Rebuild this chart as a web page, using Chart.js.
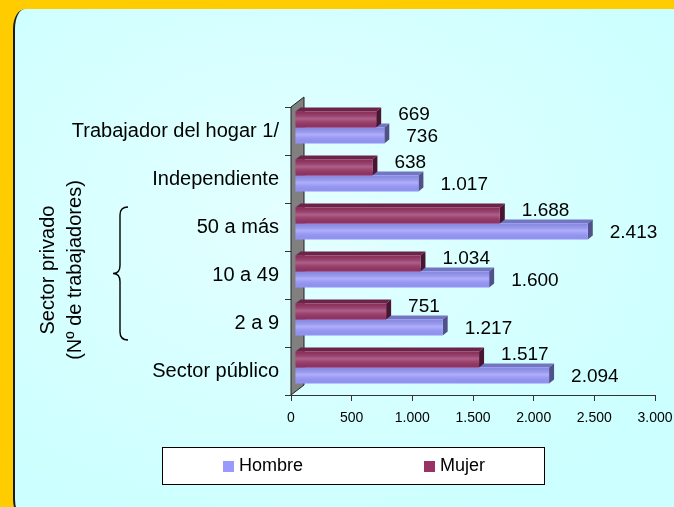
<!DOCTYPE html>
<html><head><meta charset="utf-8">
<script src="https://cdn.jsdelivr.net/npm/chart.js@4.4.0/dist/chart.umd.min.js"></script>
<style>
html,body{margin:0;padding:0;background:#FFCC00;width:674px;height:507px;overflow:hidden}
#panel{position:absolute;left:13px;top:9px;width:700px;height:510px;background:radial-gradient(ellipse at 40% 40%, #E4FFFF 0%, #CCFFFF 75%);border-left:2px solid #1a1a1a;border-radius:12px/20px;box-sizing:border-box}
#c{position:absolute;left:0;top:0}
</style></head><body>
<div id="panel"></div>
<canvas id="c" width="674" height="507"></canvas>
<script>
const categories = ['Trabajador del hogar 1/', 'Independiente', '50 a más', '10 a 49', '2 a 9', 'Sector público'];
const hombre = [736, 1017, 2413, 1600, 1217, 2094];
const mujer = [669, 638, 1688, 1034, 751, 1517];
const xTicks = [0, 500, 1000, 1500, 2000, 2500, 3000];
const seriesNames = ['Hombre', 'Mujer'];
const axisTitle = ['Sector privado', '(Nº de trabajadores)'];

const FONT = 'Liberation Sans, Arial, sans-serif';
Chart.defaults.font.family = FONT;
const fmt = v => String(Math.round(v)).replace(/\B(?=(\d{3})+(?!\d))/g, '.');

const COLORS = {
  Mujer: {front: '#993366', top: '#6E2248', side: '#4A1530'},
  Hombre: {front: '#9999FF', top: '#7474C4', side: '#50508A'}
};
const SHIFT = {x: 4, y: -3.5};
const DEPTH = {x: 5, y: -4};

function poly(ctx, pts, fill) {
  ctx.beginPath();
  ctx.moveTo(pts[0][0], pts[0][1]);
  for (let i = 1; i < pts.length; i++) ctx.lineTo(pts[i][0], pts[i][1]);
  ctx.closePath();
  ctx.fillStyle = fill;
  ctx.fill();
}

const threeD = {
  id: 'threeD',
  beforeDatasetsDraw(chart) {
    const ctx = chart.ctx, a = chart.chartArea;
    ctx.save();
    ctx.beginPath();
    ctx.moveTo(a.left, a.bottom);
    ctx.lineTo(a.left, a.top);
    ctx.lineTo(a.left + 13, a.top - 10);
    ctx.lineTo(a.left + 13, a.bottom - 10);
    ctx.closePath();
    ctx.fillStyle = '#808080';
    ctx.fill();
    ctx.strokeStyle = '#222';
    ctx.lineWidth = 1;
    ctx.stroke();
    ctx.restore();

    ctx.save();
    ctx.translate(SHIFT.x, SHIFT.y);
    const order = [1, 0];
    for (let i = 0; i < categories.length; i++) {
      order.forEach(d => {
        const ds = chart.data.datasets[d];
        const el = chart.getDatasetMeta(d).data[i];
        const p = el.getProps(['x', 'y', 'base', 'height'], true);
        const t = p.y - p.height / 2, b = p.y + p.height / 2;
        const c = COLORS[ds.label];
        poly(ctx, [[p.base, t], [p.base + DEPTH.x, t + DEPTH.y], [p.x + DEPTH.x, t + DEPTH.y], [p.x, t]], c.top);
        poly(ctx, [[p.x, t], [p.x + DEPTH.x, t + DEPTH.y], [p.x + DEPTH.x, b + DEPTH.y], [p.x, b]], c.side);
      });
    }
  },
  afterDatasetsDraw(chart) {
    const ctx = chart.ctx;
    for (let d = 0; d < 2; d++) {
      chart.getDatasetMeta(d).data.forEach(el => {
        const p = el.getProps(['x', 'y', 'base', 'height'], true);
        const t = p.y - p.height / 2;
        const g = ctx.createLinearGradient(0, t, 0, t + p.height);
        g.addColorStop(0, 'rgba(0,0,0,0.10)');
        g.addColorStop(0.45, 'rgba(255,255,255,0.22)');
        g.addColorStop(1, 'rgba(0,0,0,0.04)');
        ctx.fillStyle = g;
        ctx.fillRect(p.base, t, p.x - p.base, p.height);
      });
    }
    ctx.restore();
    ctx.save();
    ctx.font = '19px ' + FONT;
    ctx.fillStyle = '#000';
    ctx.textAlign = 'left';
    ctx.textBaseline = 'middle';
    chart.data.datasets.forEach((ds, d) => {
      const dy = ds.label === 'Mujer' ? -8 : -2;
      chart.getDatasetMeta(d).data.forEach((el, i) => {
        ctx.fillText(fmt(ds.data[i]), el.x + 26, el.y + dy);
      });
    });
    ctx.restore();
  },
  afterDraw(chart) {
    const ctx = chart.ctx, ys = chart.scales.y;
    const band = ys.getPixelForValue(1) - ys.getPixelForValue(0);
    const cy = ys.getPixelForValue(3) - 5;
    ctx.save();
    ctx.font = '20px ' + FONT;
    ctx.fillStyle = '#000';
    ctx.textAlign = 'center';
    ctx.textBaseline = 'middle';
    ctx.translate(48, cy);
    ctx.rotate(-Math.PI / 2);
    ctx.fillText(axisTitle[0], 0, 0);
    ctx.fillText(axisTitle[1], 0, 27);
    ctx.restore();
    const top = ys.getPixelForValue(2) - band / 2 + 4;
    const bot = ys.getPixelForValue(4) + band / 2 - 7;
    const mid = (top + bot) / 2;
    const xr = 128, xm = 120, xt = 113;
    ctx.save();
    ctx.strokeStyle = '#000';
    ctx.lineWidth = 1.4;
    ctx.beginPath();
    ctx.moveTo(xr, top);
    ctx.quadraticCurveTo(xm, top, xm, top + 8);
    ctx.lineTo(xm, mid - 8);
    ctx.quadraticCurveTo(xm, mid, xt, mid);
    ctx.quadraticCurveTo(xm, mid, xm, mid + 8);
    ctx.lineTo(xm, bot - 8);
    ctx.quadraticCurveTo(xm, bot, xr, bot);
    ctx.stroke();
    ctx.restore();
    ctx.save();
    ctx.fillStyle = '#fff';
    ctx.fillRect(162, 447, 382, 37);
    ctx.strokeStyle = '#000';
    ctx.lineWidth = 1;
    ctx.strokeRect(162.5, 447.5, 382, 37);
    ctx.font = '18px ' + FONT;
    ctx.textAlign = 'left';
    ctx.textBaseline = 'middle';
    const lx = [223, 424];
    seriesNames.forEach((n, k) => {
      ctx.fillStyle = COLORS[n].front;
      ctx.fillRect(lx[k], 461, 11, 11);
      ctx.fillStyle = '#000';
      ctx.fillText(n, lx[k] + 16, 466.5);
    });
    ctx.restore();
  }
};

new Chart(document.getElementById('c'), {
  type: 'bar',
  data: {
    labels: categories,
    datasets: [
      {label: 'Mujer', data: mujer, backgroundColor: COLORS.Mujer.front, clip: false},
      {label: 'Hombre', data: hombre, backgroundColor: COLORS.Hombre.front, clip: false}
    ]
  },
  options: {
    indexAxis: 'y',
    responsive: false,
    animation: false,
    devicePixelRatio: 1,
    categoryPercentage: 0.667,
    barPercentage: 1,
    layout: {padding: {left: 0, right: 19, top: 107, bottom: 82}},
    plugins: {legend: {display: false}, tooltip: {enabled: false}},
    scales: {
      x: {
        type: 'linear', min: 0, max: 3000,
        afterBuildTicks: s => { s.ticks = xTicks.map(v => ({value: v})); },
        afterFit: s => { s.height = 30; s.paddingLeft = 0; s.paddingRight = 0; },
        ticks: {callback: v => fmt(v), font: {size: 14}, color: '#000', padding: 9, maxRotation: 0, autoSkip: false},
        grid: {drawOnChartArea: false, tickLength: 6, color: '#333'},
        border: {display: true, color: '#333'}
      },
      y: {
        afterFit: s => { s.width = 291; s.paddingTop = 0; s.paddingBottom = 0; },
        ticks: {font: {size: 20}, color: '#000', padding: 6},
        grid: {drawOnChartArea: false, tickLength: 6, color: '#333', offset: true},
        border: {display: true, color: '#333'}
      }
    }
  },
  plugins: [threeD]
});
</script>
</body></html>
